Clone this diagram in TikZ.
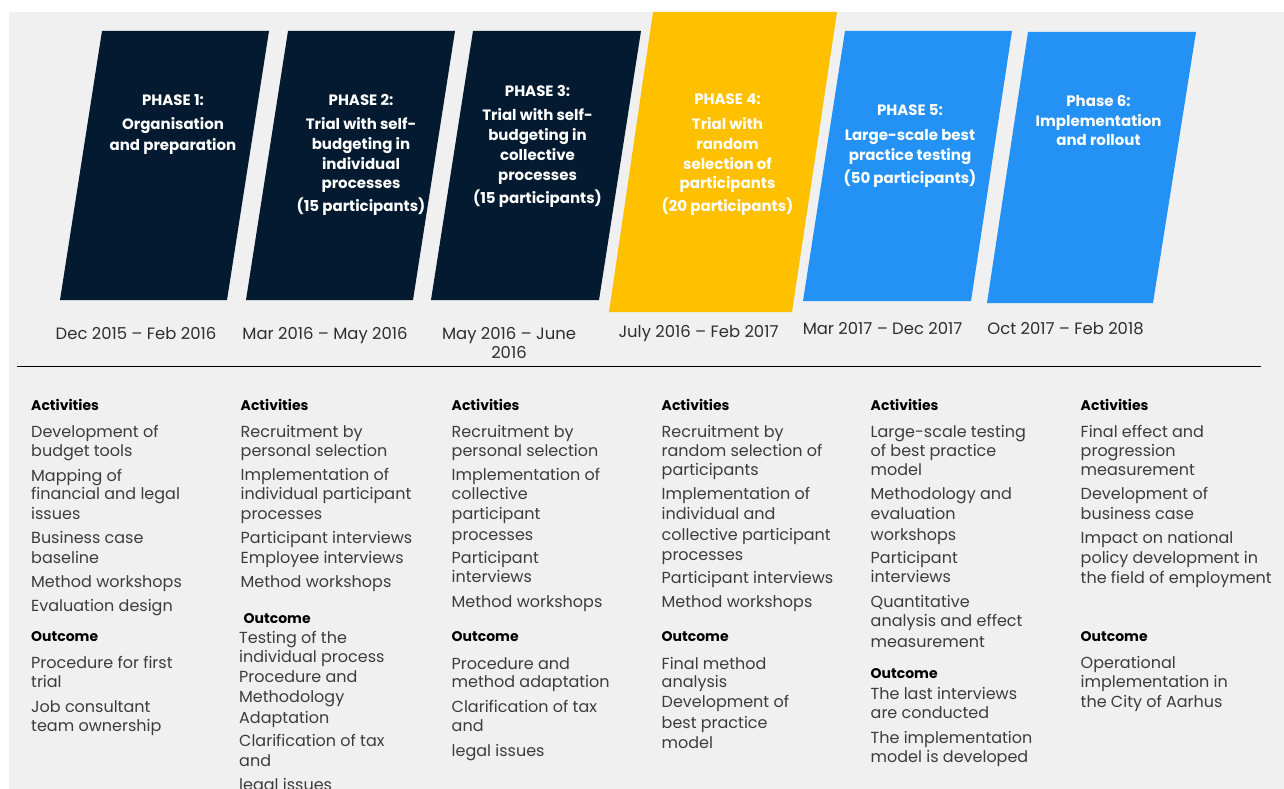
\documentclass[tikz,border=0pt]{standalone}
\usepackage{fontspec}
\setmainfont{Poppins}
\newfontfamily\phasefont{Poppins}

\definecolor{navy}{HTML}{031A31}
\definecolor{amber}{HTML}{FFC000}
\definecolor{sky}{HTML}{2492F4}
\definecolor{panel}{HTML}{F0F0F0}
\definecolor{itemgray}{HTML}{3C3C3C}
\definecolor{dategray}{HTML}{2E2E2E}

% one text line per node; #1 style, #2 name prefix, #3 x, #4 list of baseline/text
\newcommand\textlines[4]{%
  \foreach \yb/\txt [count=\k] in {#4} {\node[#1] (#2-\k) at (#3,\yb) {\txt};}}

\begin{document}
\begin{tikzpicture}[x=1pt,y=-1pt,
  itemtxt/.style={anchor=base west, inner sep=0, text=itemgray, font=\fontsize{16}{19}\selectfont},
  headtxt/.style={anchor=base west, inner sep=0, text=black, font=\bfseries\fontsize{14}{17}\selectfont},
  datetxt/.style={anchor=base, inner sep=0, text=dategray, font=\fontsize{16.4}{19}\selectfont},
  phasetxt/.style={anchor=base, inner sep=0, text=white, font=\phasefont\bfseries\fontsize{15}{20}\selectfont},
]
\useasboundingbox (0,0) rectangle (1284,789);
\fill[white] (0,0) rectangle (1284,789);
\fill[panel] (9,12) rectangle (1284,789);

% phase blocks
\fill[navy]  (102,31) -- (269,31) -- (227,300) -- (60,300) -- cycle;
\fill[navy]  (288,31) -- (455,31) -- (413,300) -- (246,300) -- cycle;
\fill[navy]  (473,31) -- (641,31) -- (599,300) -- (431,300) -- cycle;
\fill[amber] (653,12) -- (837,12) -- (792,312) -- (609,312) -- cycle;
\fill[sky]   (845,31) -- (1012,31) -- (971,301) -- (803,301) -- cycle;
\fill[sky]   (1028,32) -- (1196,32) -- (1153,303) -- (987,303) -- cycle;

% phase titles
\textlines{phasetxt}{p1}{173}{106/PHASE 1:, 130/Organisation, 150/and preparation}
\textlines{phasetxt}{p2}{361}{106/PHASE 2:, 129.5/Trial with self-, 149.5/budgeting in, 169/individual, 188.5/processes, 211/(15 participants)}
\textlines{phasetxt}{p3}{537.5}{97/PHASE 3:, 120.5/Trial with self-, 140.5/budgeting in, 160.5/collective, 180/processes, 203/(15 participants)}
\textlines{phasetxt}{p4}{727.5}{105/PHASE 4:, 129.5/Trial with, 149.5/random, 169/selection of, 188.5/participants, 211/(20 participants)}
\textlines{phasetxt}{p5}{910}{116/PHASE 5:, 140/Large-scale best, 160/practice testing, 183.5/(50 participants)}
\textlines{phasetxt}{p6}{1098.5}{106.5/Phase 6:, 126.5/Implementation, 145.5/and rollout}

% periods
\node[datetxt] (d1) at (136,339.5) {Dec 2015 – Feb 2016};
\node[datetxt] (d2) at (325,339.5) {Mar 2016 – May 2016};
\node[datetxt] (d3) at (509,339.5) {May 2016 – June};
\node[datetxt] (d3b) at (509,358) {2016};
\node[datetxt] (d4) at (698.5,337) {July 2016 – Feb 2017};
\node[datetxt] (d5) at (882.5,334) {Mar 2017 – Dec 2017};
\node[datetxt] (d6) at (1065.5,334) {Oct 2017 – Feb 2018};

% rule
\coordinate (ruleL) at (17,366.5);
\coordinate (ruleR) at (1261,366.5);
\draw[line width=1.3pt, black] (ruleL) -- (ruleR);

% column 1
\node[headtxt] (a1) at (31,410) {Activities};
\textlines{itemtxt}{c1}{31}{437/Development of, 456/budget tools, 481.5/Mapping of, 499.5/financial and legal, 519/issues, 543.5/Business case, 563/baseline, 587.5/Method workshops, 611.5/Evaluation design}
\node[headtxt] (o1) at (31,641.5) {Outcome};
\textlines{itemtxt}{e1}{31}{668.5/Procedure for first, 687.5/trial, 712.5/Job consultant, 731/team ownership}

% column 2 (its last line runs past the lower edge)
\node[headtxt] (a2) at (240.5,410) {Activities};
\textlines{itemtxt}{c2}{240.5}{437/Recruitment by, 456/personal selection, 480.5/Implementation of, 499.5/individual participant, 519/processes, 543.5/Participant interviews, 563.5/Employee interviews, 587.5/Method workshops}
\node[headtxt] (o2) at (243.5,623.5) {Outcome};
\textlines{itemtxt}{e2}{239}{643/Testing of the, 662.5/individual process, 682.5/Procedure and, 702.5/Methodology, 723/Adaptation, 746.5/Clarification of tax, 766.5/and, 790/legal issues}

% column 3
\node[headtxt] (a3) at (451.5,410) {Activities};
\textlines{itemtxt}{c3}{451.5}{437/Recruitment by, 456/personal selection, 480.5/Implementation of, 499.5/collective, 519/participant, 540/processes, 563.5/Participant, 582.5/interviews, 607.5/Method workshops}
\node[headtxt] (o3) at (451.5,641.5) {Outcome};
\textlines{itemtxt}{e3}{451.5}{669/Procedure and, 687.5/method adaptation, 712.5/Clarification of tax, 731.5/and, 756.5/legal issues}

% column 4
\node[headtxt] (a4) at (661.5,410) {Activities};
\textlines{itemtxt}{c4}{661.5}{437/Recruitment by, 456/random selection of, 475.5/participants, 499.5/Implementation of, 519/individual and, 540/collective participant, 560/processes, 583.5/Participant interviews, 607.5/Method workshops}
\node[headtxt] (o4) at (661.5,641.5) {Outcome};
\textlines{itemtxt}{e4}{661.5}{669/Final method, 687.5/analysis, 707.5/Development of, 728/best practice, 748/model}

% column 5
\node[headtxt] (a5) at (870.5,410) {Activities};
\textlines{itemtxt}{c5}{870.5}{437/Large-scale testing, 456/of best practice, 475.5/model, 499.5/Methodology and, 519/evaluation, 540/workshops, 563.5/Participant, 582.5/interviews, 607.5/Quantitative, 626.5/analysis and effect, 647/measurement}
\node[headtxt] (o5) at (870.5,678.5) {Outcome};
\textlines{itemtxt}{e5}{870.5}{699.5/The last interviews, 718.5/are conducted, 743.5/The implementation, 762/model is developed}

% column 6
\node[headtxt] (a6) at (1080.5,410) {Activities};
\textlines{itemtxt}{c6}{1080.5}{437/Final effect and, 456/progression, 475.5/measurement, 499.5/Development of, 519/business case, 543.5/Impact on national, 563.5/policy development in, 583.5/the field of employment}
\node[headtxt] (o6) at (1080.5,641.5) {Outcome};
\textlines{itemtxt}{e6}{1080.5}{668.5/Operational, 687.5/implementation in, 707.5/the City of Aarhus}
\end{tikzpicture}
\end{document}
